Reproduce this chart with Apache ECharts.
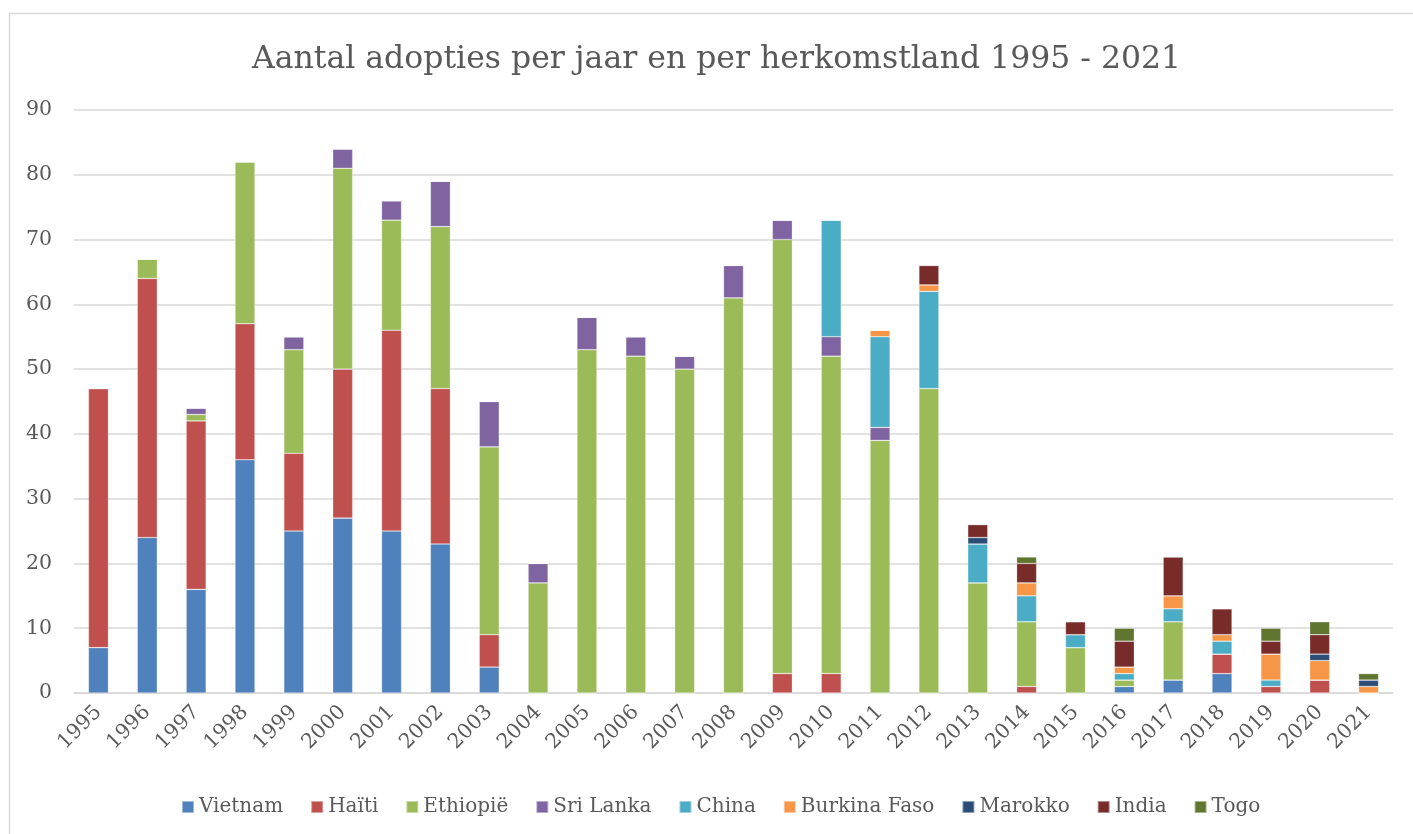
<!DOCTYPE html>
<html>
<head>
<meta charset="utf-8">
<script src="https://cdn.jsdelivr.net/npm/echarts@6/dist/echarts.min.js"></script>
<style>
html,body{margin:0;padding:0;background:#fff;}
#chart{width:1413px;height:834px;}
</style>
</head>
<body>
<div id="chart"></div>
<script>
const years = ['1995','1996','1997','1998','1999','2000','2001','2002','2003','2004','2005','2006','2007','2008','2009','2010','2011','2012','2013','2014','2015','2016','2017','2018','2019','2020','2021'];
const vietnam     = [7,24,16,36,25,27,25,23,4,0,0,0,0,0,0,0,0,0,0,0,0,1,2,3,0,0,0];
const haiti       = [40,40,26,21,12,23,31,24,5,0,0,0,0,0,3,3,0,0,0,1,0,0,0,3,1,2,0];
const ethiopie    = [0,3,1,25,16,31,17,25,29,17,53,52,50,61,67,49,39,47,17,10,7,1,9,0,0,0,0];
const sriLanka    = [0,0,1,0,2,3,3,7,7,3,5,3,2,5,3,3,2,0,0,0,0,0,0,0,0,0,0];
const china       = [0,0,0,0,0,0,0,0,0,0,0,0,0,0,0,18,14,15,6,4,2,1,2,2,1,0,0];
const burkinaFaso = [0,0,0,0,0,0,0,0,0,0,0,0,0,0,0,0,1,1,0,2,0,1,2,1,4,3,1];
const marokko     = [0,0,0,0,0,0,0,0,0,0,0,0,0,0,0,0,0,0,1,0,0,0,0,0,0,1,1];
const india       = [0,0,0,0,0,0,0,0,0,0,0,0,0,0,0,0,0,3,2,3,2,4,6,4,2,3,0];
const togo        = [0,0,0,0,0,0,0,0,0,0,0,0,0,0,0,0,0,0,0,1,0,2,0,0,2,2,1];
const yTicks = [0,10,20,30,40,50,60,70,80,90];

const seriesDefs = [
  ['Vietnam', vietnam, '#4F81BD'],
  ['Haïti', haiti, '#C0504D'],
  ['Ethiopië', ethiopie, '#9BBB59'],
  ['Sri Lanka', sriLanka, '#8064A2'],
  ['China', china, '#4BACC6'],
  ['Burkina Faso', burkinaFaso, '#F79646'],
  ['Marokko', marokko, '#2C4D75'],
  ['India', india, '#772C2A'],
  ['Togo', togo, '#5F7530']
];

const FONT = '"DejaVu Serif", serif';
const chart = echarts.init(document.getElementById('chart'));
chart.setOption({
  backgroundColor: '#fff',
  animation: false,
  color: seriesDefs.map(d => d[2]),
  graphic: [{
    type: 'rect', silent: true,
    shape: {x: 9.5, y: 13.5, width: 1500, height: 1000},
    style: {fill: 'none', stroke: '#d9d9d9', lineWidth: 1.5}
  }],
  title: {
    text: 'Aantal adopties per jaar en per herkomstland 1995 - 2021',
    left: 247, top: 39,
    textStyle: {fontFamily: FONT, fontSize: 31.5, fontWeight: 'normal', color: '#595959'}
  },
  grid: {left: 74, right: 20, top: 110, bottom: 141, containLabel: false},
  legend: {
    bottom: 12, left: 176,
    icon: 'rect', itemWidth: 12, itemHeight: 12, itemGap: 27,
    textStyle: {fontFamily: FONT, fontSize: 20, color: '#595959'},
    data: seriesDefs.map(d => d[0])
  },
  xAxis: {
    type: 'category', data: years,
    axisLine: {show: true, lineStyle: {color: '#d9d9d9', width: 1.5}},
    axisTick: {show: false},
    axisLabel: {rotate: 45, margin: 16, fontFamily: FONT, fontSize: 20.5, color: '#595959'}
  },
  yAxis: {
    type: 'value', min: yTicks[0], max: yTicks[yTicks.length-1], interval: 10,
    axisLine: {show: false}, axisTick: {show: false},
    splitLine: {lineStyle: {color: '#d9d9d9', width: 1.5}},
    axisLabel: {margin: 22, fontFamily: FONT, fontSize: 20.5, color: '#595959'}
  },
  series: seriesDefs.map(d => ({
    name: d[0], type: 'bar', stack: 'total', data: d[1], barWidth: 20,
    itemStyle: {color: d[2], borderColor: 'rgba(255,255,255,0.45)', borderWidth: 0.6}
  }))
});
</script>
</body>
</html>
